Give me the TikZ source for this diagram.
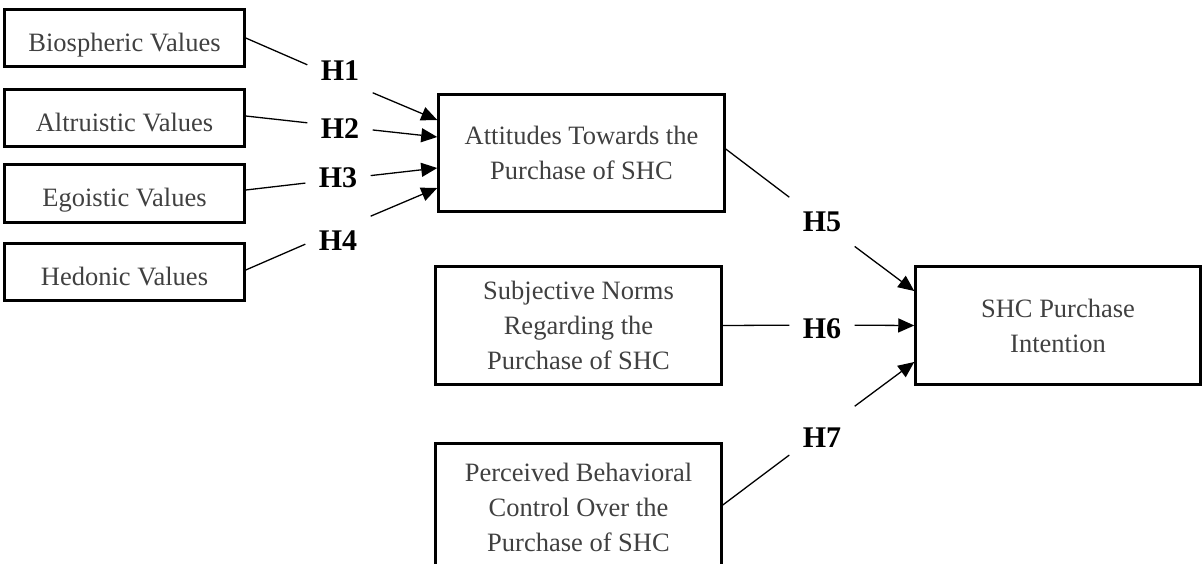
\documentclass[tikz,border=0pt]{standalone}
\usepackage{fontspec}
\setmainfont{Liberation Serif}
\usetikzlibrary{arrows.meta}
\newcommand\hyplab[2]{\raisebox{#1}[0pt][0pt]{#2}}
\begin{document}
\begin{tikzpicture}[x=1pt,y=-1pt,
  box/.style={draw=black, line width=2.5pt, rectangle, align=center, inner sep=0pt, text=black!75, font=\fontsize{26.5}{35}\selectfont},
  single/.style={text height=26.6pt, text depth=0pt},
  hyp/.style={rectangle, inner sep=0pt, minimum width=65pt, minimum height=60pt, font=\fontsize{30}{30}\selectfont\bfseries},
  link/.style={line width=1.3pt},
  arr/.style={line width=1.3pt, -{Triangle[length=16pt,width=14pt]}}]
\useasboundingbox (0,0) rectangle (1204,563);
\clip (0,0) rectangle (1204,563);
% boxes
\node[box, single, minimum width=240pt, minimum height=57pt] (bio) at (124.5,38) {Biospheric Values};
\node[box, single, minimum width=240pt, minimum height=57pt] (alt) at (124.5,118) {Altruistic Values};
\node[box, single, minimum width=240pt, minimum height=58pt] (ego) at (124.5,193.5) {Egoistic Values};
\node[box, single, minimum width=240pt, minimum height=57pt] (hed) at (124.5,272) {Hedonic Values};
\node[box, minimum width=286pt, minimum height=117pt] (att) at (581.5,153) {Attitudes Towards the\\Purchase of SHC};
\node[box, minimum width=286pt, minimum height=118pt] (sub) at (578.5,325.5) {Subjective Norms\\Regarding the\\Purchase of SHC};
\node[box, minimum width=286pt, minimum height=128pt] (per) at (578.5,507.5) {Perceived Behavioral\\Control Over the\\Purchase of SHC};
\node[box, minimum width=285pt, minimum height=118pt] (shc) at (1058,325.5) {SHC Purchase\\Intention};
% hypothesis labels
\node[hyp] (h1) at (340,79) {\hyplab{-1pt}{H1}};
\node[hyp] (h2) at (340,126.4) {\hyplab{-11.6pt}{H2}};
\node[hyp] (h3) at (338,179.3) {\hyplab{-8.2pt}{H3}};
\node[hyp] (h4) at (338,230) {\hyplab{-20pt}{H4}};
\node[hyp] (h5) at (822,222) {\hyplab{-9pt}{H5}};
\node[hyp] (h6) at (822,325) {\hyplab{-13pt}{H6}};
\node[hyp] (h7) at (822,430.5) {\hyplab{-16.5pt}{H7}};
% connectors
\draw[link] (bio.east) -- (h1);
\draw[arr] (h1) -- ([yshift=33pt]att.west);
\draw[link] ([yshift=2pt]alt.east) -- (h2);
\draw[arr] (h2) -- ([yshift=16pt]att.west);
\draw[link] ([yshift=3.5pt]ego.east) -- (h3);
\draw[arr] (h3) -- ([yshift=-15pt]att.west);
\draw[link] ([yshift=2pt]hed.east) -- (h4);
\draw[arr] (h4) -- ([yshift=-35pt]att.west);
\draw[link] ([yshift=4pt]att.east) -- (h5);
\draw[arr] (h5) -- ([yshift=34.5pt]shc.west);
\draw[link] (sub.east) -- (h6);
\draw[arr] (h6) -- (shc.west);
\draw[link] ([yshift=2.5pt]per.east) -- (h7);
\draw[arr] (h7) -- ([yshift=-36.5pt]shc.west);
\end{tikzpicture}
\end{document}
